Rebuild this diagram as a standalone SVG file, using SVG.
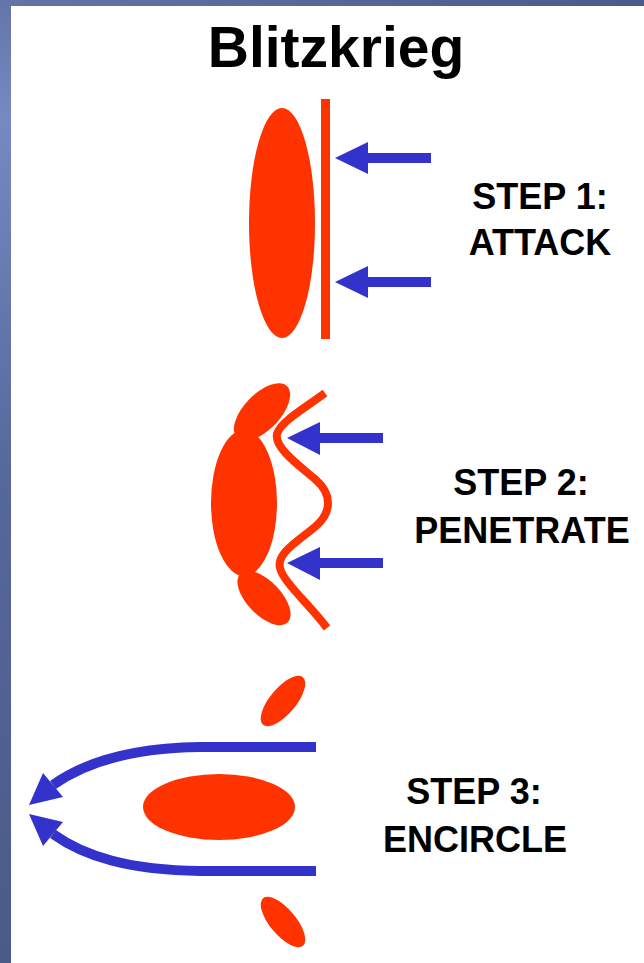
<svg xmlns="http://www.w3.org/2000/svg" width="644" height="963" viewBox="0 0 644 963">
<defs>
<linearGradient id="bl" x1="0" y1="0" x2="0" y2="1">
<stop offset="0" stop-color="#6474a8"/>
<stop offset="0.12" stop-color="#7589c4"/>
<stop offset="0.5" stop-color="#56679a"/>
<stop offset="1" stop-color="#4a5a8a"/>
</linearGradient>
<linearGradient id="bt" x1="0" y1="0" x2="1" y2="0">
<stop offset="0" stop-color="#6474a8"/>
<stop offset="1" stop-color="#4a5a8a"/>
</linearGradient>
<style>
.red{fill:#ff3300}
.blue{fill:#3333cc}
.rline{fill:none;stroke:#ff3300;stroke-width:8;stroke-linejoin:round}
.bline{fill:none;stroke:#3333cc;stroke-width:10}
.t{font-family:"Liberation Sans",Arial,sans-serif;font-weight:bold;fill:#000;text-anchor:middle}
.s{font-size:36px}
</style>
</defs>
<rect x="0" y="0" width="644" height="963" fill="#ffffff"/>
<rect x="0" y="0" width="644" height="6" fill="url(#bt)"/>
<rect x="0" y="0" width="11" height="963" fill="url(#bl)"/>
<text id="title" class="t" x="336" y="67" font-size="57">Blitzkrieg</text>

<g id="step1">
<ellipse class="red" cx="282" cy="223" rx="33" ry="115"/>
<rect class="red" x="321" y="99" width="9" height="240"/>
<text class="t s" x="540" y="209">STEP 1:</text>
<text class="t s" x="540" y="255">ATTACK</text>
</g>

<g id="step2">
<ellipse class="red" cx="244" cy="503" rx="33" ry="73"/>
<ellipse class="red" cx="262" cy="412" rx="36" ry="18" transform="rotate(-46 262 412)"/>
<ellipse class="red" cx="264" cy="598" rx="34" ry="17" transform="rotate(46 264 598)"/>
<path class="rline" d="M325,393 C305,408 280,422 277,434 C274,448 300,466 316,480 C332,494 332,512 316,526 C300,540 276,553 280,568 C283,582 310,605 327,628"/>
<text class="t s" x="521" y="495">STEP 2:</text>
<text class="t s" x="522" y="543">PENETRATE</text>
</g>

<g id="step3">
<ellipse class="red" cx="219" cy="807" rx="76" ry="33"/>
<ellipse class="red" cx="283" cy="701" rx="31" ry="13" transform="rotate(-50 283 701)"/>
<ellipse class="red" cx="283" cy="922" rx="31" ry="13" transform="rotate(50 283 922)"/>
<text class="t s" x="474" y="804">STEP 3:</text>
<text class="t s" x="475" y="852">ENCIRCLE</text>
</g>

<g id="connectors">
<path class="blue" d="M335,158 L368,142 L368,153 L431,153 L431,163 L368,163 L368,174 Z"/>
<path class="blue" d="M335,282 L368,266 L368,277 L431,277 L431,287 L368,287 L368,298 Z"/>
<path class="blue" d="M287,438 L320,422 L320,433 L383,433 L383,443 L320,443 L320,455 Z"/>
<path class="blue" d="M287,563 L320,547 L320,558 L383,558 L383,568 L320,568 L320,580 Z"/>
<path class="bline" d="M316,747 L200,747 C130,748 85,762 53,785"/>
<path class="blue" d="M29,805 L43,773 L63,797 Z"/>
<path class="bline" d="M316,871 L200,871 C130,870 85,857 53,834"/>
<path class="blue" d="M29,814 L43,846 L63,822 Z"/>
</g>
</svg>
